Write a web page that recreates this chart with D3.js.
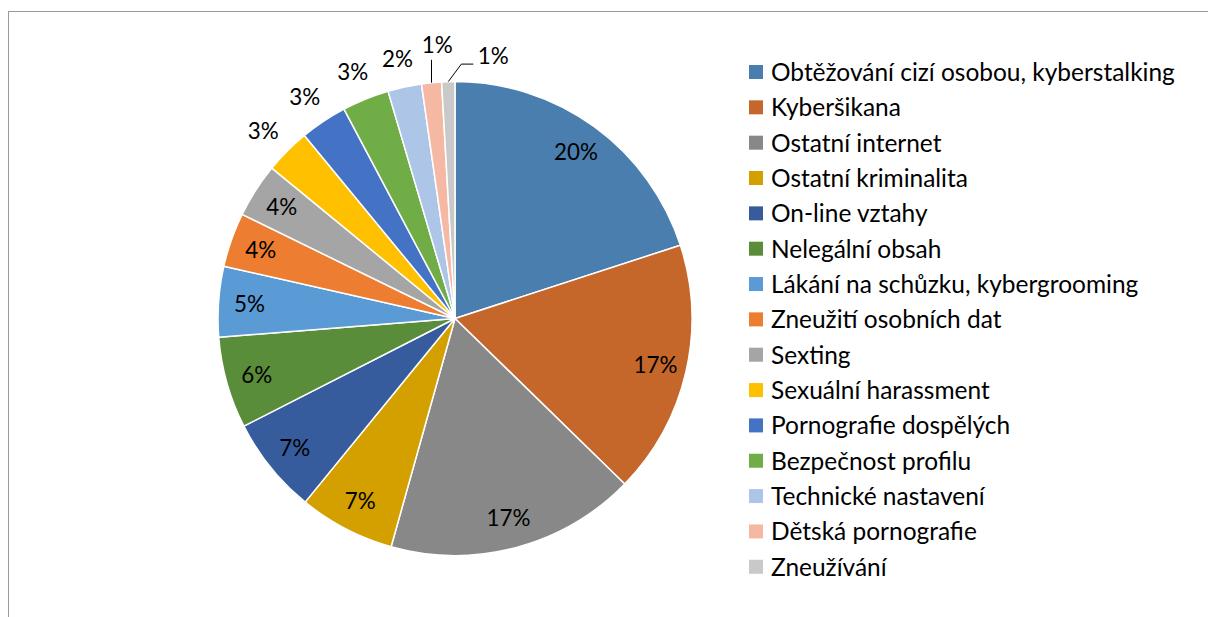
<!DOCTYPE html>
<html>
<head>
<meta charset="utf-8">
<script src="https://cdn.jsdelivr.net/npm/d3@7"></script>
<style>
  html, body { margin: 0; padding: 0; background: #fff; }
  svg { display: block; }
  text { font-family: Lato, "Open Sans", sans-serif; fill: #000; }
</style>
</head>
<body>
<svg id="chart" width="1208" height="617"></svg>
<script>
// ---- data ----
const categories = [
  "Obtěžování cizí osobou, kyberstalking",
  "Kyberšikana",
  "Ostatní internet",
  "Ostatní kriminalita",
  "On-line vztahy",
  "Nelegální obsah",
  "Lákání na schůzku, kybergrooming",
  "Zneužití osobních dat",
  "Sexting",
  "Sexuální harassment",
  "Pornografie dospělých",
  "Bezpečnost profilu",
  "Technické nastavení",
  "Dětská pornografie",
  "Zneužívání"
];
const values = [20.0, 17.3, 17.05, 6.55, 6.6, 6.25, 4.8, 3.7, 3.7, 3.1, 3.2, 3.2, 2.3, 1.36, 0.9];
const colors = [
  "#4a7eae", "#c5672b", "#888888", "#d3a000", "#375c9e", "#5a8d3a",
  "#5b9bd5", "#ed7d31", "#a5a5a5", "#ffc000", "#4472c4", "#70ad47",
  "#adc5e7", "#f5b9a3", "#c9c9c9"
];

// ---- layout ----
const svg = d3.select("#chart");
const cx = 455, cy = 318.5, R = 237;
const total = d3.sum(values);
const fmt = d3.format(".0%");

// chart border (extends past the window on right / bottom)
svg.append("rect")
  .attr("x", 8.5).attr("y", 11.5)
  .attr("width", 1400).attr("height", 800)
  .attr("fill", "none").attr("stroke", "#9a9a9a").attr("stroke-width", 1);

const pie = d3.pie().sort(null).value(d => d.value);
const data = pie(categories.map((c, i) => ({ name: c, value: values[i], color: colors[i], i })));
const arc = d3.arc().innerRadius(0).outerRadius(R);

const g = svg.append("g").attr("transform", `translate(${cx},${cy})`);
g.selectAll("path.slice").data(data).join("path")
  .attr("class", "slice")
  .attr("d", arc)
  .attr("fill", d => d.data.color)
  .attr("stroke", "#fff").attr("stroke-width", 1.5).attr("stroke-linejoin", "round");

const mid = d => (d.startAngle + d.endAngle) / 2;

// fit label font so "20%" is about as wide as in the reference
const probe = svg.append("text").style("font-size", "20px").text("20%");
const labelSize = 20 * 44 / probe.node().getComputedTextLength();
probe.remove();

// labels
const nudges = { 13: [9, -9], 14: [46, 3.5] };
const labelG = g.append("g");
data.forEach((d, idx) => {
  const a = mid(d);
  const s = Math.sin(a), c = -Math.cos(a);
  const frac = d.data.value / total;
  const txt = fmt(frac);
  if (frac > 0.035) {
    const r = 206;
    labelG.append("text")
      .attr("x", r * s).attr("y", r * c)
      .attr("text-anchor", "middle").attr("dy", "0.36em")
      .style("font-size", labelSize.toFixed(2) + "px")
      .text(txt);
  } else {
    const gap = 20, hw = 14, hh = 9;
    let x = (R + gap) * s + hw * s;
    let y = (R + gap) * c + hh * c;
    const n = nudges[idx];
    if (n) { x += n[0]; y += n[1]; }
    labelG.append("text")
      .attr("x", x).attr("y", y)
      .attr("text-anchor", "middle").attr("dy", "0.36em")
      .style("font-size", labelSize.toFixed(2) + "px")
      .text(txt);
    if (n) {
      const ax = R * s, ay = R * c;
      let pts;
      if (Math.abs(n[0]) < 20) {
        pts = [[ax, ay], [ax, y + 15]];
      } else {
        const left = x - hw;
        pts = [[ax, ay], [left - 18, y + 8], [left - 6, y + 8]];
      }
      labelG.append("path")
        .attr("d", d3.line()(pts))
        .attr("fill", "none").attr("stroke", "#000").attr("stroke-width", 1);
    }
  }
});

// legend
const legX = 749, legY0 = 72, legStep = 35.34, sq = 14;
const leg = svg.append("g");
const rows = leg.selectAll("g").data(data).join("g")
  .attr("transform", (d, i) => `translate(${legX},${legY0 + i * legStep})`);
rows.append("rect")
  .attr("x", 0).attr("y", -sq / 2).attr("width", sq).attr("height", sq)
  .attr("fill", d => d.data.color);
const legTexts = rows.append("text")
  .attr("x", 22).attr("dy", "0.36em")
  .style("font-size", "20px")
  .text(d => d.data.name);
// fit legend font so the longest entry spans like the reference
const w0 = legTexts.nodes()[0].getComputedTextLength();
const fs = 20 * 404 / w0;
legTexts.style("font-size", fs.toFixed(2) + "px");
</script>
</body>
</html>
